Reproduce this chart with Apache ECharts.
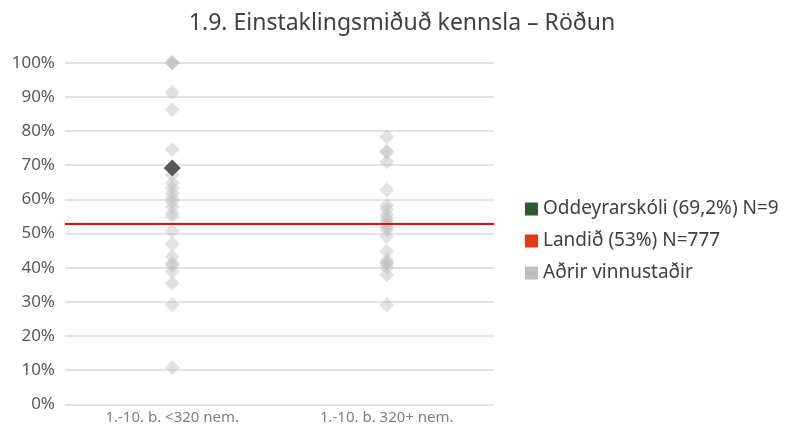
<!DOCTYPE html>
<html>
<head>
<meta charset="utf-8">
<script src="https://cdn.jsdelivr.net/npm/echarts@6/dist/echarts.min.js"></script>
<style>
  html, body { margin: 0; padding: 0; background: #fff; }
  #chart { width: 787px; height: 430px; }
</style>
</head>
<body>
<div id="chart"></div>
<script>
// Categories (school size groups)
const categories = ['1.-10. b. <320 nem.', '1.-10. b. 320+ nem.'];

// Other workplaces, score in % per group
const othersSmall = [100, 100, 100, 91.3, 86.2, 74.6, 67.1, 64.7, 63.3, 61.8, 60.4, 59.3, 57.8, 55.9, 55, 50.7, 46.9, 43.2, 41.3, 40.6, 38.8, 35.4, 29.1, 10.8];
const othersLarge = [78.3, 73.9, 73.9, 71.0, 62.7, 58.3, 57.1, 55.5, 54.5, 53.6, 52.7, 51.8, 51.0, 49.1, 44.7, 42.2, 41.3, 41.3, 40.0, 37.9, 29.1];

// Highlighted school
const schoolName = 'Oddeyrarskóli (69,2%) N=9';
const schoolCategory = 0;
const schoolValue = 69.2;

// National average
const nationName = 'Landið (53%) N=777';
const nationValue = 53;

const othersName = 'Aðrir vinnustaðir';
const yTicks = [0, 10, 20, 30, 40, 50, 60, 70, 80, 90, 100];

const othersData = []
  .concat(othersSmall.map(v => [0, v]))
  .concat(othersLarge.map(v => [1, v]));

const FONT = '"Noto Sans", "Open Sans", sans-serif';

const chart = echarts.init(document.getElementById('chart'), null, { renderer: 'canvas' });

chart.setOption({
  animation: false,
  textStyle: { fontFamily: FONT },
  title: {
    text: '1.9. Einstaklingsmiðuð kennsla – Röðun',
    left: 397,
    top: 7,
    textAlign: 'center',
    textStyle: { fontFamily: FONT, fontSize: 23, fontWeight: 'normal', color: '#404040' }
  },
  grid: { left: 65, right: 293, top: 62.7, bottom: 25.7, containLabel: false },
  legend: {
    orient: 'vertical',
    left: 520,
    top: 192,
    itemWidth: 13,
    itemHeight: 13,
    itemGap: 8,
    icon: 'rect',
    textStyle: { fontFamily: FONT, fontSize: 19, color: '#404040', lineHeight: 24 },
    data: [
      { name: schoolName, itemStyle: { color: '#2d5a2e', opacity: 1 } },
      { name: nationName, itemStyle: { color: '#e03c14', opacity: 1 } },
      { name: othersName, itemStyle: { color: '#bfbfbf', opacity: 1 } }
    ]
  },
  xAxis: {
    type: 'category',
    data: categories,
    boundaryGap: true,
    axisLine: { show: false },
    axisTick: { show: false },
    axisLabel: { fontFamily: FONT, fontSize: 15, color: '#7f7f7f', margin: 6 }
  },
  yAxis: {
    type: 'value',
    min: 0,
    max: 100,
    interval: 10,
    axisLine: { show: false },
    axisTick: { show: false },
    axisLabel: {
      fontFamily: FONT, fontSize: 17, color: '#595959', margin: 10,
      formatter: v => (yTicks.indexOf(v) >= 0 ? v + '%' : '')
    },
    splitLine: { lineStyle: { color: '#d9d9d9', width: 1.5 } }
  },
  series: [
    {
      name: othersName,
      type: 'scatter',
      symbol: 'diamond',
      symbolSize: 15,
      itemStyle: { color: '#bfbfbf', opacity: 0.45 },
      data: othersData,
      z: 2
    },
    {
      name: nationName,
      type: 'line',
      data: [],
      itemStyle: { color: '#e03c14' },
      markLine: {
        silent: true,
        symbol: 'none',
        label: { show: false },
        lineStyle: { color: '#ff0000', width: 2, type: 'solid' },
        data: [{ yAxis: nationValue }]
      },
      z: 3
    },
    {
      name: schoolName,
      type: 'scatter',
      symbol: 'diamond',
      symbolSize: 17,
      itemStyle: { color: '#595959', opacity: 1 },
      data: [[schoolCategory, schoolValue]],
      z: 4
    }
  ]
});
</script>
</body>
</html>
